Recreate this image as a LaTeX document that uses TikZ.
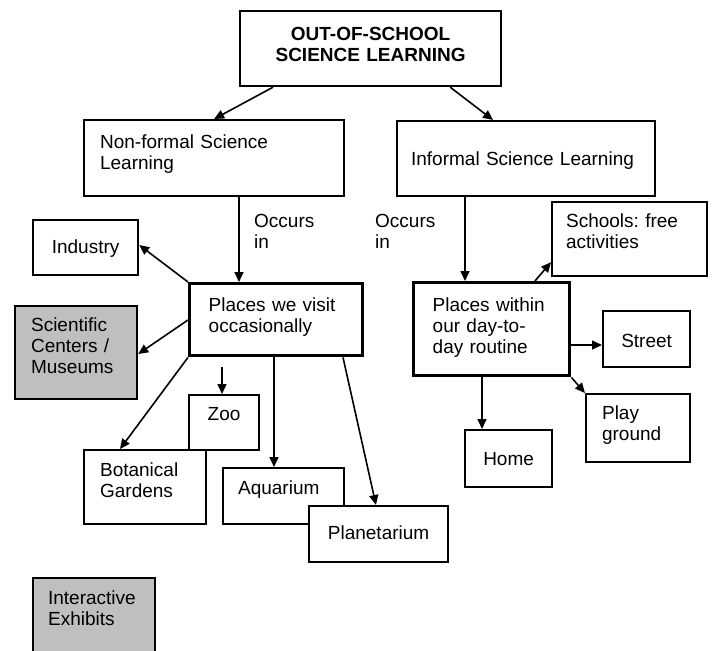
\documentclass[tikz,border=0pt]{standalone}
\usepackage{fontspec}
\setmainfont{Liberation Sans}
\usepackage{tikz}
\usetikzlibrary{arrows.meta}

\begin{document}
\frenchspacing
\begin{tikzpicture}[x=1pt,y=-1pt,
        font=\fontsize{19}{21}\selectfont,
        box/.style={draw,line width=2.2pt,fill=white,inner ysep=0pt,anchor=north west},
        main/.style={box,line width=3.4pt},
        grey/.style={box,fill=black!25},
        lbl/.style={anchor=base west,align=left,text width=70pt,inner sep=0pt},
        arr/.style={-{Triangle[length=10pt,width=9pt]},line width=1.6pt}]
    \useasboundingbox (0,0) rectangle (716,651);

    % top of the map
    \node[box,align=center,font=\fontsize{19}{21}\selectfont\bfseries,inner xsep=15pt,text width=231pt,text height=29pt,text depth=46pt] (top) at (239,10) {OUT-OF-SCHOOL\\SCIENCE LEARNING};
    \node[box,align=left,inner xsep=16pt,text width=228pt,text height=28pt,text depth=48pt] (nonformal) at (83,119) {Non-formal Science\\Learning};
    \node[box,align=left,inner xsep=14pt,text width=230pt,text height=44pt,text depth=31pt] (informal) at (396,120) {Informal Science Learning};

    \node[lbl] (occursL) at (254,227) {Occurs\\in};
    \node[lbl] (occursR) at (375,227) {Occurs\\in};

    % non-formal side
    \node[main,align=left,inner xsep=19pt,text width=135pt,text height=28pt,text depth=44pt] (visit) at (188,282) {Places we visit\\occasionally};
    \node[box,align=center,inner xsep=10pt,text width=85pt,text height=33pt,text depth=22pt] (industry) at (32,219) {Industry};
    \node[grey,align=left,inner xsep=16pt,text width=90pt,text height=25pt,text depth=68pt] (scientific) at (14,305) {Scientific\\Centers /\\Museums};
    \node[box,align=center,inner xsep=10pt,text width=50pt,text height=25pt,text depth=30pt] (zoo) at (188,394) {Zoo};
    \node[box,align=left,inner xsep=16pt,text width=90pt,text height=26pt,text depth=48pt] (botanical) at (83,449) {Botanical\\Gardens};
    \node[box,align=left,inner xsep=15pt,text width=91pt,text height=26pt,text depth=30pt] (aquarium) at (222,467) {Aquarium};
    \node[box,align=center,inner xsep=10pt,text width=119pt,text height=33pt,text depth=23pt] (planetarium) at (308,505) {Planetarium};
    \node[grey,align=left,inner xsep=15pt,text width=92pt,text height=26pt,text depth=59pt] (interactive) at (32,577) {Interactive\\Exhibits};

    % informal side
    \node[main,align=left,inner xsep=19pt,text width=118pt,text height=29pt,text depth=64pt] (within) at (412,281) {Places within\\our day-to-\\day routine};
    \node[box,align=left,inner xsep=14pt,text width=127pt,text height=25pt,text depth=49pt] (schools) at (551,201) {Schools: free\\activities};
    \node[box,align=center,inner xsep=10pt,text width=67pt,text height=36pt,text depth=20pt] (street) at (602,310) {Street};
    \node[box,align=left,inner xsep=16pt,text width=72pt,text height=25pt,text depth=43pt] (play) at (585,393) {Play\\ground};
    \node[box,align=center,inner xsep=10pt,text width=67pt,text height=35pt,text depth=22pt] (home) at (464,429) {Home};

    % links
    \draw[arr] ([xshift=34pt]top.south west) -- (nonformal.north);
    \draw[arr] ([xshift=-52pt]top.south east) -- ([xshift=97pt]informal.north west);
    \draw[arr] ([xshift=156pt]nonformal.south west) -- ([xshift=51pt]visit.north west);
    \draw[arr] ([xshift=69pt]informal.south west) -- ([xshift=53pt]within.north west);

    \draw[arr] (visit.north west) -- ([yshift=-26pt]industry.north east);
    \draw[arr] ([yshift=-38pt]visit.north west) -- ([yshift=-49pt]scientific.north east);
    \draw[arr] ([xshift=34pt,yshift=-10pt]visit.south west) -- ([xshift=34pt]zoo.north west);
    \draw[arr] (visit.south west) -- ([xshift=37pt]botanical.north west);
    \draw[arr] ([xshift=86pt]visit.south west) -- ([xshift=52pt]aquarium.north west);
    \draw[arr] ([xshift=155pt]visit.south west) -- ([xshift=68pt]planetarium.north west);

    \draw[arr] ([xshift=123pt]within.north west) -- ([yshift=15pt]schools.south west);
    \draw[arr] ([yshift=-64pt]within.north east) -- ([yshift=-35pt]street.north west);
    \draw[arr] (within.south east) -- (play.north west);
    \draw[arr] ([xshift=70pt]within.south west) -- ([xshift=18pt]home.north west);
\end{tikzpicture}
\end{document}
